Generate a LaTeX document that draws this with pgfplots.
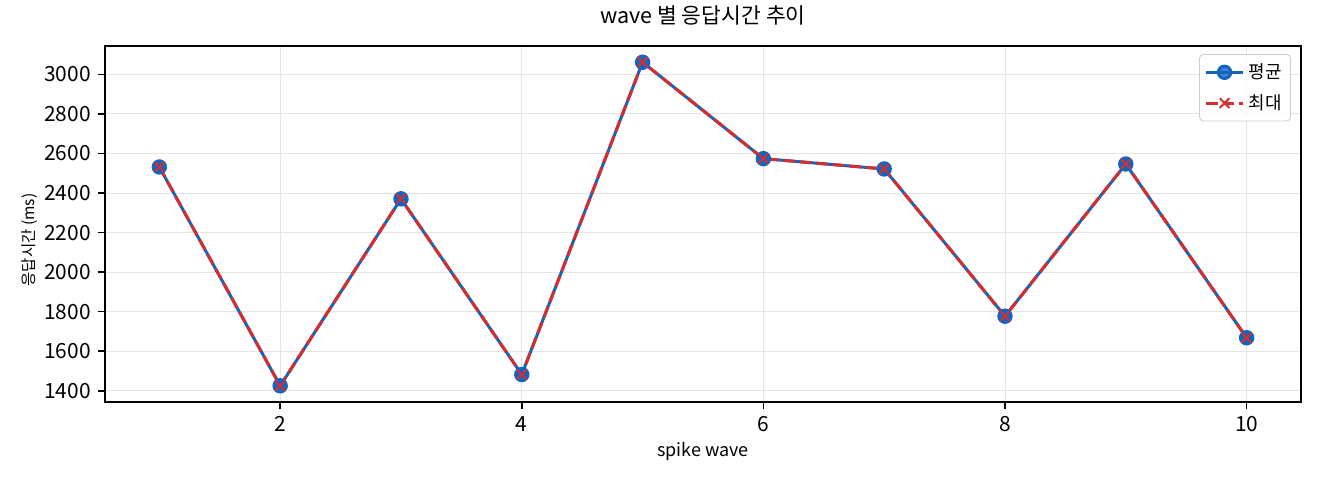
\documentclass[border=0pt]{standalone}
\usepackage{fontspec}
\setmainfont{Noto Sans CJK KR}
\usepackage{pgfplots}
\pgfplotsset{compat=1.18}
\definecolor{cblue}{HTML}{1565C0}
\definecolor{cred}{HTML}{D32F2F}
\definecolor{cgrid}{HTML}{E5E5E5}
\definecolor{clegend}{HTML}{CCCCCC}
\pgfplotstableread{
x avg
1 2532
2 1425
3 2371
4 1482
5 3062
6 2574
7 2522
8 1777
9 2547
10 1668
}\avgtable
\pgfplotstableread{
x max
1 2532
2 1425
3 2371
4 1482
5 3062
6 2574
7 2522
8 1777
9 2547
10 1668
}\maxtable
\begin{document}
\begin{tikzpicture}
\useasboundingbox (-52.5bp,-39bp) rectangle (607.5bp,201bp);
\begin{axis}[
 at={(0,0)}, anchor=south west,
 scale only axis, width=598bp, height=178bp,
 xmin=0.55, xmax=10.45, ymin=1343, ymax=3144,
 xtick={2,4,6,8,10}, ytick={1400,1600,...,3000},
 grid=major, grid style={cgrid, line width=0.5bp},
 axis line style={black, line width=0.8bp},
 tick align=outside, tick pos=left,
 major tick length=3.6bp,
 every tick/.style={black, line width=0.8bp},
 tick label style={font=\fontsize{10.5}{12}\selectfont},
 /pgf/number format/assume math mode=true,
 /pgf/number format/1000 sep={},
 title={wave 별 응답시간 추이},
 title style={font=\fontsize{10.8}{12}\selectfont, at={(axis description cs:0.5,1)}, anchor=south, yshift=1bp},
 xlabel={spike wave},
 xlabel style={font=\fontsize{9}{11}\selectfont, at={(axis description cs:0.5,0)}, anchor=center, yshift=-24.5bp},
 ylabel={응답시간 (ms)},
 ylabel style={font=\fontsize{7.8}{10}\selectfont, at={(axis description cs:-0.0627,0.455)}, anchor=center},
 legend style={at={(axis description cs:0.9916,0.9775)}, anchor=north east,
   draw=clegend, rounded corners=2bp, fill=white, fill opacity=0.8, text opacity=1,
   font=\fontsize{9}{11}\selectfont, row sep=2.5bp, inner sep=2.5bp},
 legend cell align=left,
 legend image code/.code={\draw[mark repeat=2,mark phase=2] plot coordinates {(0bp,0bp) (9.25bp,0bp) (18.5bp,0bp)};},
]
\addplot[cblue, line width=1.5bp, mark=*, mark size=3.1bp, mark options={solid, fill=cblue, draw=cblue}] table[x=x, y=avg] {\avgtable};
\addlegendentry{평균}
\addplot[cred, line width=1.5bp, dash pattern=on 5.8bp off 2.5bp, mark=x, mark size=3.4bp, mark options={solid, line width=1bp}] table[x=x, y=max] {\maxtable};
\addlegendentry{최대}
\end{axis}
\end{tikzpicture}
\end{document}
